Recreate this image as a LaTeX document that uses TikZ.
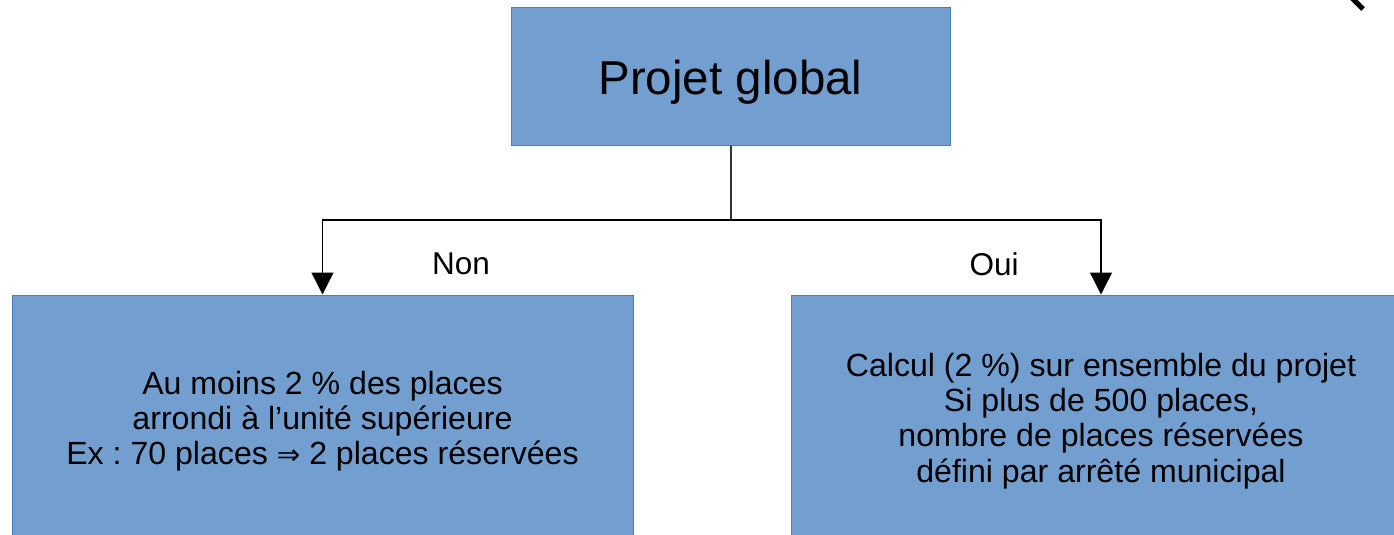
\documentclass[tikz,border=0pt]{standalone}
\usepackage{fontspec}
\setmainfont{Liberation Sans}
\newfontfamily\djfont{DejaVu Sans}
\usetikzlibrary{arrows.meta}
\frenchspacing
\definecolor{boxfill}{HTML}{729FCF}
\definecolor{boxline}{HTML}{4A7CC0}
\definecolor{stemgray}{HTML}{333333}
\tikzset{
  bluebox/.style={draw=boxline, line width=1pt, fill=boxfill, inner sep=0pt, align=center},
  bodytext/.style={font=\fontsize{32.1}{35.3}\selectfont\frenchspacing},
  lbl/.style={font=\fontsize{31.5}{35}\selectfont, inner sep=0pt},
  stemline/.style={draw=stemgray, line width=2pt},
  arrline/.style={draw=black, line width=1.4pt, -{Triangle[width=22pt,length=22pt]}}
}
\begin{document}
\begin{tikzpicture}[x=1pt,y=-1pt]
\clip (0,0) rectangle (1394,535);
\useasboundingbox (0,0) rectangle (1394,535);
\fill[white] (0,0) rectangle (1394,535);
% top box
\node[bluebox, minimum width=439pt, minimum height=137pt, text height=40pt, text depth=5pt,
  font=\fontsize{47.5}{52}\selectfont]
  (top) at (730.5,76.5) {Projet global};
% left box
\node[bluebox, bodytext, minimum width=621pt, minimum height=252pt]
  (left) at (322.5,421) {Au moins 2 \% des places\\arrondi à l’unité supérieure\\Ex : 70 places {\djfont\fontsize{28}{35}\selectfont ⇒} 2 places réservées};
% right box
\node[bluebox, bodytext, minimum width=620pt, minimum height=252pt]
  (right) at (1101,421) {Calcul (2 \%) sur ensemble du projet\\Si plus de 500 places,\\nombre de places réservées\\défini par arrêté municipal};
% junction
\coordinate (j) at (730.5,220);
\draw[stemline] (top.south) -- (j);
\draw[arrline] (j) -| (left.north);
\draw[arrline] (j) -| (right.north);
% labels
\node[lbl] (non) at (461,264) {Non};
\node[lbl] (oui) at (994,264) {Oui};
% fragment at top right
\draw[line width=5pt] (1352,-2) -- (1363,9);
\end{tikzpicture}
\end{document}
